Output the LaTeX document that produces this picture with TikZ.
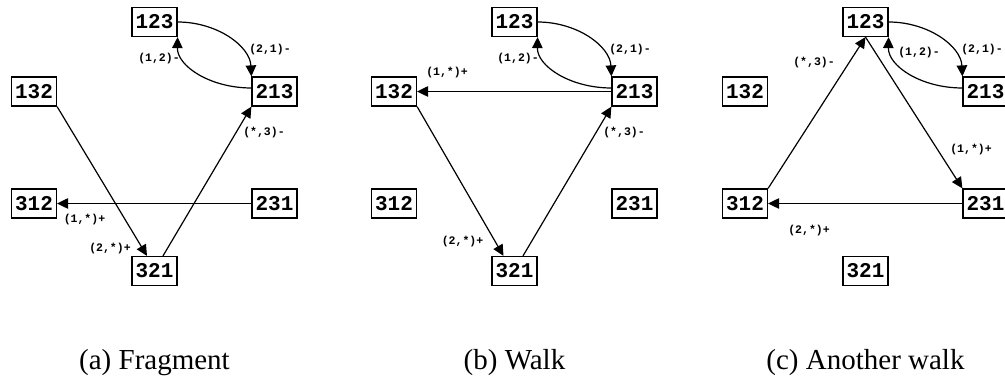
\documentclass[tikz,border=0pt]{standalone}
\usepackage{fontspec}
\newfontfamily\permfont{Liberation Mono}
\newfontfamily\capfont{Liberation Serif}
\usetikzlibrary{arrows.meta}
\tikzset{
  perm/.style={draw, line width=1.2pt, minimum width=45pt, minimum height=29pt, inner sep=0pt,
    font=\permfont\bfseries\fontsize{21}{21}\selectfont},
  elab/.style={inner sep=0pt, font=\permfont\bfseries\fontsize{11.5}{12}\selectfont},
  conn/.style={line width=1.2pt, -{Triangle[length=11pt,width=10.5pt]}},
  captext/.style={anchor=base, inner sep=0pt, font=\capfont\fontsize{29}{32}\selectfont}
}
\newcommand\permnodes[1]{%
  \node[perm] (#1123) at (154.5,22) {123};
  \node[perm] (#1213) at (274.5,91.5) {213};
  \node[perm] (#1132) at (34,91.5) {132};
  \node[perm] (#1312) at (34,203.5) {312};
  \node[perm] (#1231) at (274.5,203.5) {231};
  \node[perm] (#1321) at (154.5,271) {321};
  \draw[conn] (#1123.east) .. controls (217,22) and (250,46) .. (#1213.north west);
  \draw[conn] ([yshift=3.5pt]#1213.west) .. controls (210,88) and (177,66) .. (#1123.south east);
}
\begin{document}
\begin{tikzpicture}[x=1pt,y=-1pt]
\useasboundingbox (0,0) rectangle (1005,382);
\clip (0,0) rectangle (1005,382);
% (a)
\begin{scope}
  \permnodes{a}
  \draw[conn] (a132.south east) -- ([xshift=-7.5pt]a321.north);
  \draw[conn] ([xshift=8.5pt]a321.north) -- (a213.south west);
  \draw[conn] (a231.west) -- (a312.east);
  \node[elab] (la1) at (270,50) {(2,1)-};
  \node[elab] (la2) at (159,59) {(1,2)-};
  \node[elab] (la3) at (110,249) {(2,*)+};
  \node[elab] (la4) at (264,133) {(*,3)-};
  \node[elab] (la5) at (84.5,220) {(1,*)+};
  \node[captext] (capa) at (154.5,370) {(a) Fragment};
\end{scope}
% (b)
\begin{scope}[xshift=360pt]
  \permnodes{b}
  \draw[conn] (b213.west) -- (b132.east);
  \draw[conn] (b132.south east) -- ([xshift=-11pt]b321.north);
  \draw[conn] ([xshift=8.5pt]b321.north) -- (b213.south west);
  \node[elab] (lb1) at (270,50) {(2,1)-};
  \node[elab] (lb2) at (158,59) {(1,2)-};
  \node[elab] (lb3) at (87,73) {(1,*)+};
  \node[elab] (lb4) at (102.5,242) {(2,*)+};
  \node[elab] (lb5) at (264,133) {(*,3)-};
  \node[captext] (capb) at (154.5,370) {(b) Walk};
\end{scope}
% (c)
\begin{scope}[xshift=711pt]
  \permnodes{c}
  \draw[conn] (c123.south) -- (c231.north west);
  \draw[conn] (c231.west) -- (c312.east);
  \draw[conn] (c312.north east) -- (c123.south);
  \node[elab] (lc1) at (271,50) {(2,1)-};
  \node[elab] (lc2) at (208,53) {(1,2)-};
  \node[elab] (lc3) at (260,150) {(1,*)+};
  \node[elab] (lc4) at (98,231) {(2,*)+};
  \node[elab] (lc5) at (103,63) {(*,3)-};
  \node[captext] (capc) at (154.5,370) {(c) Another walk};
\end{scope}
\end{tikzpicture}
\end{document}
